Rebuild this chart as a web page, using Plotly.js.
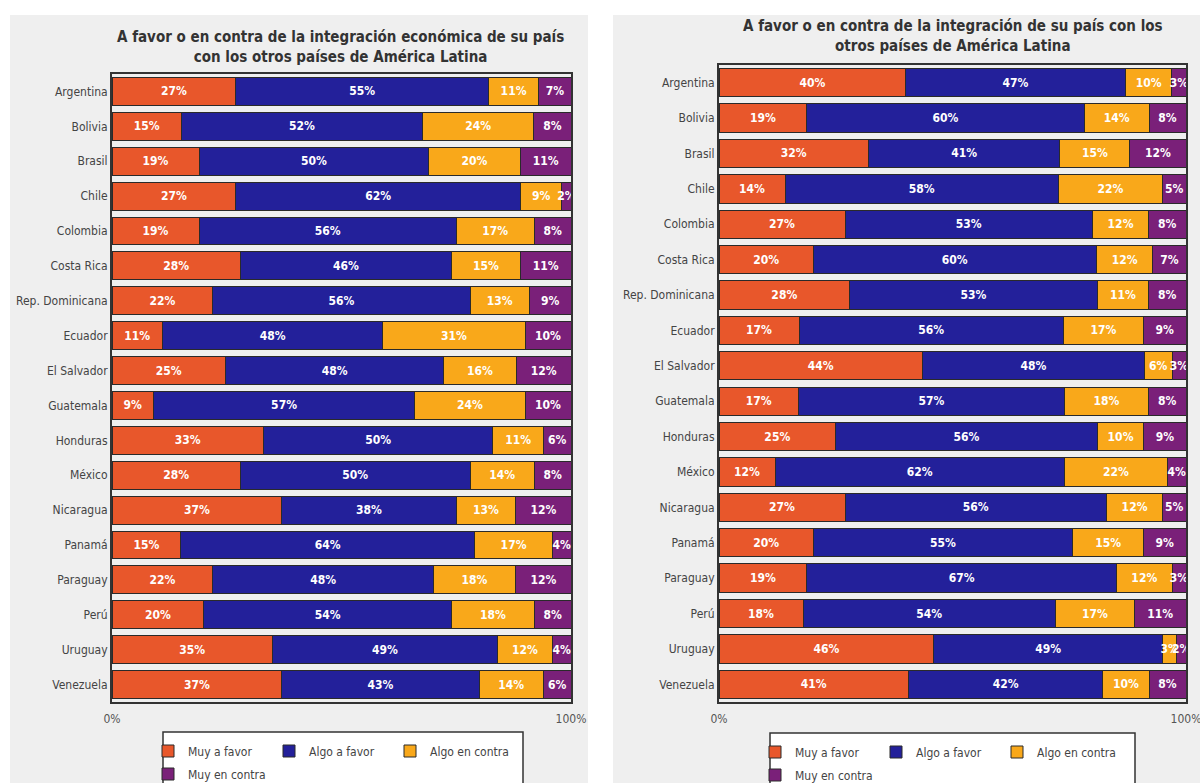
<!DOCTYPE html>
<html>
<head>
<meta charset="utf-8">
<script src="https://cdn.plot.ly/plotly-3.0.1.min.js"></script>
<style>html,body{margin:0;padding:0;background:#fff;}#chart{width:1200px;height:783px;}</style>
</head>
<body>
<div id="chart"></div>
<script>
const countries = ["Argentina","Bolivia","Brasil","Chile","Colombia","Costa Rica","Rep. Dominicana","Ecuador","El Salvador","Guatemala","Honduras","México","Nicaragua","Panamá","Paraguay","Perú","Uruguay","Venezuela"];
const seriesNames = ["Muy a favor","Algo a favor","Algo en contra","Muy en contra"];
const colors = ["#E8572B","#23209A","#F9A81A","#7A2079"];

// Left chart: integración económica
const leftMuyFavor   = [27,15,19,27,19,28,22,11,25, 9,33,28,37,15,22,20,35,37];
const leftAlgoFavor  = [55,52,50,62,56,46,56,48,48,57,50,50,38,64,48,54,49,43];
const leftAlgoContra = [11,24,20, 9,17,15,13,31,16,24,11,14,13,17,18,18,12,14];
const leftMuyContra  = [ 7, 8,11, 2, 8,11, 9,10,12,10, 6, 8,12, 4,12, 8, 4, 6];

// Right chart: integración
const rightMuyFavor   = [40,19,32,14,27,20,28,17,44,17,25,12,27,20,19,18,46,41];
const rightAlgoFavor  = [47,60,41,58,53,60,53,56,48,57,56,62,56,55,67,54,49,42];
const rightAlgoContra = [10,14,15,22,12,12,11,17, 6,18,10,22,12,15,12,17, 3,10];
const rightMuyContra  = [ 3, 8,12, 5, 8, 7, 8, 9, 3, 8, 9, 4, 5, 9, 3,11, 2, 8];

const leftTitle = "A favor o en contra de la integración económica de su país<br>con los otros países de América Latina";
const rightTitle = "A favor o en contra de la integración de su país con los<br>otros países de América Latina";
const xTickVals = [0,100];
const xTickText = ["0%","100%"];

const FONT = "'DejaVu Sans Condensed', 'DejaVu Sans', sans-serif";

function mk(vals, i, xa, ya, legend) {
  return {
    type: 'bar', orientation: 'h',
    y: countries, x: vals, text: vals,
    texttemplate: '%{text}%', textposition: 'inside', insidetextanchor: 'middle',
    constraintext: 'none', textangle: 0,
    textfont: {color: '#ffffff', size: 12, family: FONT, weight: 'bold'},
    name: seriesNames[i],
    marker: {color: colors[i], line: {color: '#2a2a2a', width: 1}},
    xaxis: xa, yaxis: ya, legend: legend, hoverinfo: 'skip'
  };
}

const leftSets = [leftMuyFavor, leftAlgoFavor, leftAlgoContra, leftMuyContra];
const rightSets = [rightMuyFavor, rightAlgoFavor, rightAlgoContra, rightMuyContra];
const data = [];
leftSets.forEach((v,i)=>data.push(mk(v,i,'x','y', i<3 ? 'legend' : 'legend2')));
rightSets.forEach((v,i)=>data.push(mk(v,i,'x2','y2', i<3 ? 'legend3' : 'legend4')));

const H = 783, W = 1200;
const px = v => v / W;
const py = v => 1 - v / H;

const xaxisBase = {
  range: [0,100], tickvals: xTickVals, ticktext: xTickText, showgrid: false, zeroline: false,
  showline: true, mirror: true, linecolor: '#333', linewidth: 2, ticks: '',
  ticklabelstandoff: 5, ticklabeloverflow: 'allow',
  tickfont: {family: FONT, size: 12, color: '#555'}, fixedrange: true
};
const yaxisBase = {
  autorange: 'reversed', showgrid: false, zeroline: false,
  showline: true, mirror: true, linecolor: '#333', linewidth: 2, ticks: '',
  tickfont: {family: FONT, size: 12, color: '#444'}, fixedrange: true
};

const legendBase = {
  orientation: 'h', bgcolor: 'rgba(0,0,0,0)', borderwidth: 0, traceorder: 'normal',
  font: {family: FONT, size: 12, color: '#444'},
  xanchor: 'left', yanchor: 'middle', entrywidth: 76, entrywidthmode: 'pixels',
  itemwidth: 30, itemclick: false, itemdoubleclick: false
};

const layout = {
  width: W, height: H,
  margin: {l: 0, r: 0, t: 0, b: 0, autoexpand: false},
  paper_bgcolor: '#ffffff', plot_bgcolor: '#ffffff',
  barmode: 'stack', barnorm: 'percent', bargap: 0.2,
  showlegend: true,
  xaxis: Object.assign({}, xaxisBase, {domain: [px(112), px(571)], anchor: 'y'}),
  yaxis: Object.assign({}, yaxisBase, {domain: [py(702), py(74)], anchor: 'x'}),
  xaxis2: Object.assign({}, xaxisBase, {domain: [px(719), px(1186)], anchor: 'y2'}),
  yaxis2: Object.assign({}, yaxisBase, {domain: [py(702), py(65)], anchor: 'x2'}),
  legend: Object.assign({}, legendBase, {x: px(148), y: py(751)}),
  legend2: Object.assign({}, legendBase, {x: px(148), y: py(774)}),
  legend3: Object.assign({}, legendBase, {x: px(755), y: py(752)}),
  legend4: Object.assign({}, legendBase, {x: px(755), y: py(775)}),
  shapes: [
    {type: 'rect', xref: 'paper', yref: 'paper', x0: px(10), x1: px(588), y0: 0, y1: py(15), fillcolor: '#EFEFEF', line: {width: 0}, layer: 'below'},
    {type: 'rect', xref: 'paper', yref: 'paper', x0: px(613), x1: 1, y0: 0, y1: py(15), fillcolor: '#EFEFEF', line: {width: 0}, layer: 'below'},
    {type: 'rect', xref: 'paper', yref: 'paper', x0: px(163), x1: px(523), y0: -0.01, y1: py(732), fillcolor: '#ffffff', line: {color: '#333', width: 1.5}, layer: 'below'},
    {type: 'rect', xref: 'paper', yref: 'paper', x0: px(770), x1: px(1135), y0: -0.01, y1: py(733), fillcolor: '#ffffff', line: {color: '#333', width: 1.5}, layer: 'below'}
  ],
  annotations: [
    {text: leftTitle, xref: 'paper', yref: 'paper', x: px(340), y: py(47), xanchor: 'center', yanchor: 'middle', showarrow: false,
     font: {family: FONT, size: 15, color: '#333', weight: 'bold'}},
    {text: rightTitle, xref: 'paper', yref: 'paper', x: px(953), y: py(36), xanchor: 'center', yanchor: 'middle', showarrow: false,
     font: {family: FONT, size: 15, color: '#333', weight: 'bold'}}
  ]
};

Plotly.newPlot('chart', data, layout, {displayModeBar: false, staticPlot: true});
</script>
</body>
</html>
